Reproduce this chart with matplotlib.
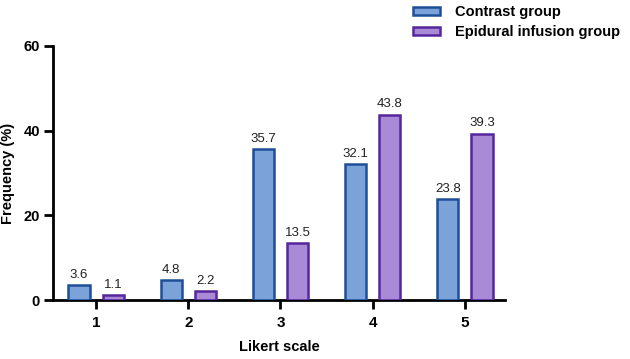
import matplotlib
matplotlib.use("Agg")
import matplotlib.pyplot as plt
import numpy as np

plt.rcParams['font.family'] = ['Liberation Sans', 'DejaVu Sans']

categories = ['1', '2', '3', '4', '5']
contrast = [3.6, 4.8, 35.7, 32.1, 23.8]
epidural = [1.1, 2.2, 13.5, 43.8, 39.3]
series_names = ['Contrast group', 'Epidural infusion group']

fill_colors = ['#7ba3d9', '#a98ad6']
edge_colors = ['#1f4f97', '#55269c']

fig = plt.figure(figsize=(6.3, 3.59), dpi=100)
ax = fig.add_axes([0.0841, 0.1643, 0.7175, 0.7076])

x = np.arange(1, len(categories) + 1)
off = 0.185
w = 0.23
for vals, dx, fc, ec, name in zip([contrast, epidural], [-off, off], fill_colors, edge_colors, series_names):
    bars = ax.bar(x + dx, vals, width=w, color=fc, edgecolor=ec, linewidth=1.8, label=name, zorder=3)
    for b, v in zip(bars, vals):
        ax.annotate(f'{v:.1f}', (b.get_x() + b.get_width() / 2, v), xytext=(0, 3),
                    textcoords='offset points', ha='center', va='bottom', fontsize=9.5, color='#222222')

ax.set_xlim(0.533, 5.435)
ax.set_ylim(0, 60)
ax.set_yticks([0, 20, 40, 60])
ax.set_xticks(x)
ax.set_xticklabels(categories)

for s in ['top', 'right']:
    ax.spines[s].set_visible(False)
for s in ['left', 'bottom']:
    ax.spines[s].set_linewidth(2)
ax.tick_params(axis='both', width=2, length=6.5)
ax.tick_params(axis='y', labelsize=10.5, pad=3)
ax.tick_params(axis='x', labelsize=11, pad=5)
for lab in ax.get_xticklabels() + ax.get_yticklabels():
    lab.set_fontweight('bold')

ax.set_xlabel('Likert scale', fontsize=10.5, fontweight='bold', labelpad=7)
ax.set_ylabel('Frequency (%)', fontsize=10.5, fontweight='bold', labelpad=6)

fig.legend(loc='upper left', bbox_to_anchor=(0.635, 1.022), frameon=False,
           prop={'weight': 'bold', 'size': 10.5}, handlelength=1.85, handleheight=0.5,
           handletextpad=1.0, labelspacing=0.4)

fig.savefig('out.png', dpi=100)
